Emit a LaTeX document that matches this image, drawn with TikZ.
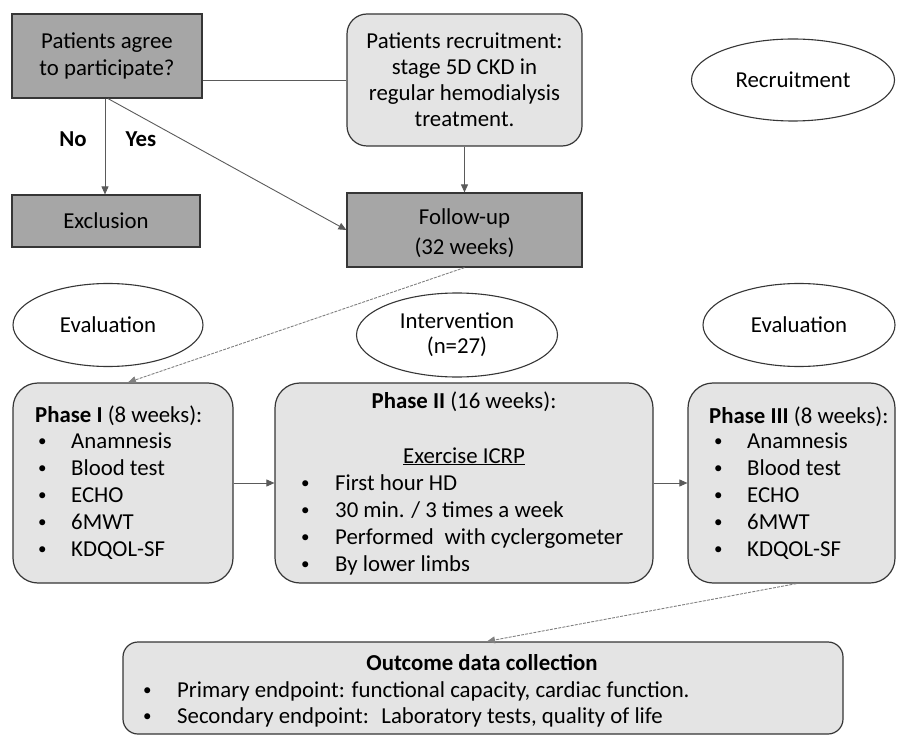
\documentclass[tikz,border=0pt]{standalone}
\usepackage{fontspec}
\setmainfont{Carlito}
\usetikzlibrary{arrows.meta,shapes.geometric}
\definecolor{darkbox}{HTML}{A6A6A6}
\definecolor{lightbox}{HTML}{E4E4E4}
\definecolor{edgec}{HTML}{363636}
\definecolor{connc}{HTML}{5A5A5A}
\newcommand{\smbullet}{\raisebox{1.6pt}{\fontsize{17}{17}\selectfont\textbullet}}
\newcommand{\bul}[2][33pt]{\makebox[#1][l]{\smbullet}#2}
\begin{document}
\begin{tikzpicture}[x=1pt,y=-1pt,
  font=\fontsize{22.8}{27}\selectfont,
  box/.style={draw=edgec,line width=1.2pt,inner sep=0pt,align=center},
  dark/.style={box,fill=darkbox},
  light/.style={box,fill=lightbox,rounded corners=#1},
  oval/.style={ellipse,draw=edgec,line width=1.1pt,fill=white,inner sep=0pt,align=center},
  conn/.style={draw=connc,line width=0.9pt,-{Triangle[length=8pt,width=7pt]}},
  faint/.style={conn,draw=gray,dash pattern=on 3pt off 1.2pt},
  txt/.style={inner sep=0pt,anchor=base west},
  ctxt/.style={inner sep=0pt,anchor=base}]
\useasboundingbox (0,0) rectangle (902,735);

% top row
\node[dark,minimum width=190pt,minimum height=84pt] (agree) at (107,56)
  {Patients agree\\to participate?};
\node[dark,minimum width=188pt,minimum height=52pt] (excl) at (106,221) {Exclusion};
\node[light=20pt,minimum width=235pt,minimum height=132pt,font=\fontsize{22.8}{26}\selectfont] (recr) at (464.5,80)
  {Patients recruitment:\\stage 5D CKD in\\regular hemodialysis\\treatment.};
\node[dark,minimum width=235pt,minimum height=74pt] (follow) at (464.5,230) {};
\node[ctxt] (fu1) at (464.5,225) {Follow-up};
\node[ctxt] (fu2) at (464.5,255) {(32 weeks)};
\node[oval,minimum width=203pt,minimum height=82pt] (ellrec) at (793,80) {Recruitment};

\node[inner sep=0pt,font=\fontsize{22.8}{27}\selectfont\bfseries] (no) at (73,139) {No};
\node[inner sep=0pt,font=\fontsize{22.8}{27}\selectfont\bfseries] (yes) at (141,139) {Yes};

% ellipses middle
\node[oval,minimum width=190pt,minimum height=83pt] (ev1) at (108,325) {Evaluation};
\node[oval,minimum width=201pt,minimum height=84pt,font=\fontsize{22.8}{25}\selectfont] (int) at (457,335) {Intervention\\(n=27)};
\node[oval,minimum width=192pt,minimum height=83pt] (ev2) at (799,325) {Evaluation};

% phase boxes
\node[light=25pt,minimum width=220pt,minimum height=200pt] (ph1) at (123,483) {};
\node[light=25pt,minimum width=378pt,minimum height=200pt] (ph2) at (464,483) {};
\node[light=25pt,minimum width=207pt,minimum height=200pt] (ph3) at (791.5,483) {};
\node[light=15pt,minimum width=720pt,minimum height=92pt] (out) at (483,688) {};

% phase I text
\node[txt] (p1h) at (35,422) {\textbf{Phase I} (8 weeks):};
\node[txt] (p1l) at (38,448) {\begin{tabular}[t]{@{}l@{}}
  \bul{Anamnesis}\\ \bul{Blood test}\\ \bul{ECHO}\\ \bul{6MWT}\\ \bul{KDQOL-SF}\end{tabular}};

% phase II text
\node[ctxt] (p2h) at (464,408) {\textbf{Phase II} (16 weeks):};
\node[ctxt] (p2e) at (464,463) {\underline{Exercise ICRP}};
\node[txt] (p2l) at (301,490) {\begin{tabular}[t]{@{}l@{}}
  \bul[34pt]{First hour HD}\\ \bul[34pt]{30 min. / 3 times a week}\\
  \bul[34pt]{Performed\hspace{0.25em} with cyclergometer}\\ \bul[34pt]{By lower limbs}\end{tabular}};

% phase III text
\node[txt] (p3h) at (709,423) {\textbf{Phase III} (8 weeks):};
\node[txt] (p3l) at (714,448) {\begin{tabular}[t]{@{}l@{}}
  \bul{Anamnesis}\\ \bul{Blood test}\\ \bul{ECHO}\\ \bul{6MWT}\\ \bul{KDQOL-SF}\end{tabular}};

% outcome text
\node[ctxt] (oh) at (482,670) {\textbf{Outcome data collection}};
\node[txt,font=\fontsize{22.8}{26.5}\selectfont] (ol) at (143,697) {\begin{tabular}[t]{@{}l@{}}
  \bul[34pt]{Primary endpoint: functional capacity, cardiac function.}\\
  \bul[34pt]{Secondary endpoint:\hspace{0.25em} Laboratory tests, quality of life}\end{tabular}};

% connectors
\draw[draw=connc,line width=0.9pt] (recr.west -| agree.east) -- (recr.west);
\draw[conn] ([xshift=-2pt]agree.south) -- ([xshift=-1pt]excl.north);
\draw[conn] ([xshift=1pt]agree.south) -- (follow.west);
\draw[conn] (recr.south) -- (follow.north);
\draw[faint] (follow.south) -- ([xshift=5pt]ph1.north);
\draw[conn] (ph1.east) -- (ph2.west);
\draw[conn] (ph2.east) -- (ph3.west);
\draw[faint] ([xshift=5pt]ph3.south) -- ([xshift=4pt]out.north);
\end{tikzpicture}
\end{document}
